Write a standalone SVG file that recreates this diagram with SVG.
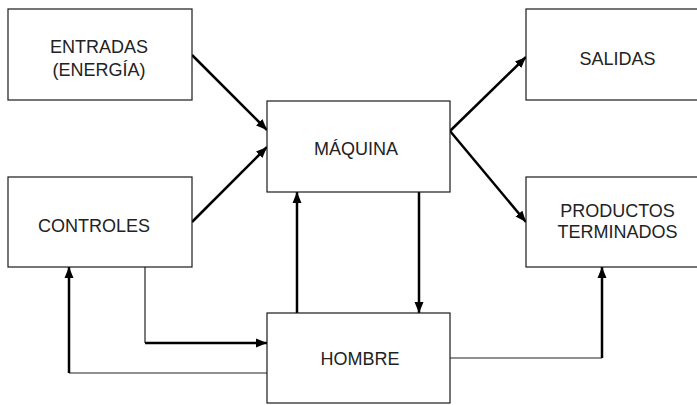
<svg xmlns="http://www.w3.org/2000/svg" width="697" height="405" viewBox="0 0 697 405">
<style>
.box{fill:#fff;stroke:#1a1a1a;stroke-width:1.2}
.lbl{font-family:"Liberation Sans",Arial,sans-serif;font-size:18px;fill:#222;text-anchor:middle}
.thick{fill:none;stroke:#000;stroke-width:2.5}
.thin{fill:none;stroke:#222;stroke-width:1.2}
</style>
<defs>
<marker id="ah" markerUnits="userSpaceOnUse" markerWidth="12" markerHeight="10" refX="11" refY="5" orient="auto">
<path d="M0,0.5 L11,5 L0,9.5 z" fill="#000"/>
</marker>
</defs>
<rect width="697" height="405" fill="#fff"/>
<g id="connectors">
<path class="thick" d="M192,55 L267,130" marker-end="url(#ah)"/>
<path class="thick" d="M192,222 L267,147" marker-end="url(#ah)"/>
<path class="thick" d="M450,131 L526,57" marker-end="url(#ah)"/>
<path class="thick" d="M450,131 L526,222" marker-end="url(#ah)"/>
<path class="thick" d="M297,313 L297,192" marker-end="url(#ah)"/>
<path class="thick" d="M419,192 L419,313" marker-end="url(#ah)"/>
<path class="thin" d="M145,267 L145,343"/>
<path class="thick" d="M145,343 L267,343" marker-end="url(#ah)"/>
<path class="thin" d="M267,373 L69,373"/>
<path class="thick" d="M69,373 L69,267" marker-end="url(#ah)"/>
<path class="thin" d="M450,358 L602,358"/>
<path class="thick" d="M602,358 L602,267" marker-end="url(#ah)"/>
</g>
<g id="entradas">
<rect class="box" x="8" y="9" width="184" height="91"/>
<text class="lbl" x="99" y="52.5">ENTRADAS</text>
<text class="lbl" x="99" y="75.5">(ENERGÍA)</text>
</g>
<g id="controles">
<rect class="box" x="8" y="177" width="184" height="90"/>
<text class="lbl" x="94" y="231.5">CONTROLES</text>
</g>
<g id="maquina">
<rect class="box" x="267" y="101" width="183" height="91"/>
<text class="lbl" x="356" y="155">MÁQUINA</text>
</g>
<g id="hombre">
<rect class="box" x="267" y="313" width="183" height="90"/>
<text class="lbl" x="360" y="365">HOMBRE</text>
</g>
<g id="salidas">
<rect class="box" x="526" y="9" width="183" height="91"/>
<text class="lbl" x="617.5" y="65">SALIDAS</text>
</g>
<g id="productos">
<rect class="box" x="526" y="177" width="183" height="90"/>
<text class="lbl" x="617.5" y="217">PRODUCTOS</text>
<text class="lbl" x="617.5" y="238">TERMINADOS</text>
</g>
</svg>
